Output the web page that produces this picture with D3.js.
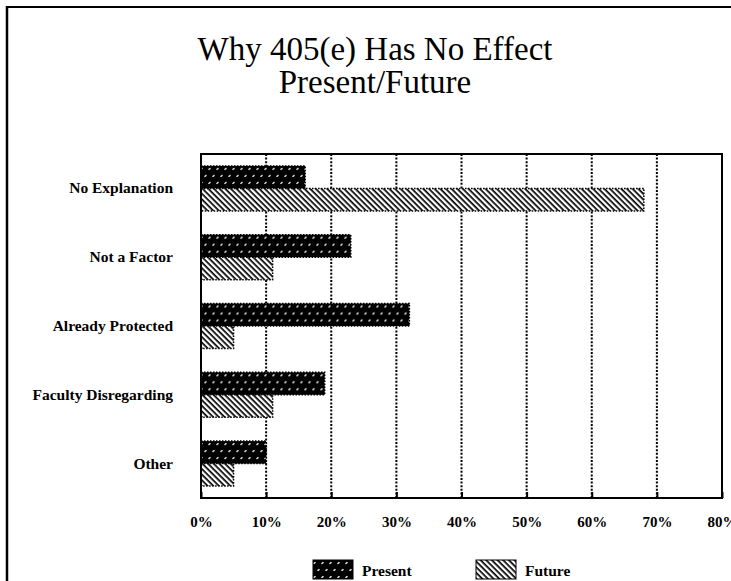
<!DOCTYPE html>
<html>
<head>
<meta charset="utf-8">
<script src="https://cdn.jsdelivr.net/npm/d3@7"></script>
<style>
  html, body { margin: 0; padding: 0; background: #fff; }
  svg { display: block; }
  text { font-family: "Liberation Serif", "Times New Roman", serif; fill: #000; }
</style>
</head>
<body>
<svg id="chart" width="731" height="581"></svg>
<script>
// Reasons why 405(e) has no effect, share of responses (%)
const categories = ["No Explanation", "Not a Factor", "Already Protected", "Faculty Disregarding", "Other"];
const seriesNames = ["Present", "Future"];
const presentValues = [16, 23, 32, 19, 10];
const futureValues = [68, 11, 5, 11, 5];
const tickValues = [0, 10, 20, 30, 40, 50, 60, 70, 80];
const titleLines = ["Why 405(e) Has No Effect", "Present/Future"];

const svg = d3.select("#chart");
const W = 731, H = 581;
const plot = { left: 201, right: 722, top: 154, bottom: 498 };

// Fill patterns: dotted black for Present, diagonal hatch for Future
const defs = svg.append("defs");
const pDots = defs.append("pattern")
  .attr("id", "pat-present").attr("patternUnits", "userSpaceOnUse")
  .attr("width", 8).attr("height", 14);
pDots.append("rect").attr("width", 8).attr("height", 14).attr("fill", "#000");
[[1.5, 3], [5.5, 10]].forEach(([cx, cy]) => {
  pDots.append("line")
    .attr("x1", cx - 1).attr("y1", cy + 0.8).attr("x2", cx + 1).attr("y2", cy - 0.8)
    .attr("stroke", "#fff").attr("stroke-width", 1.4);
});
const pHatch = defs.append("pattern")
  .attr("id", "pat-future").attr("patternUnits", "userSpaceOnUse")
  .attr("width", 4).attr("height", 4)
  .attr("patternTransform", "rotate(45)");
pHatch.append("rect").attr("width", 4).attr("height", 4).attr("fill", "#fff");
pHatch.append("rect").attr("x", 0).attr("y", 0).attr("width", 4).attr("height", 1.7).attr("fill", "#000");

const fills = { Present: "url(#pat-present)", Future: "url(#pat-future)" };

// Outer page border (left and top)
svg.append("line").attr("x1", 7).attr("y1", 6).attr("x2", 7).attr("y2", H)
  .attr("stroke", "#000").attr("stroke-width", 2.5);
svg.append("line").attr("x1", 6).attr("y1", 7).attr("x2", W).attr("y2", 7)
  .attr("stroke", "#000").attr("stroke-width", 2);

// Title
svg.append("g").selectAll("text").data(titleLines).join("text")
  .attr("x", 375).attr("y", (d, i) => 60 + i * 33)
  .attr("text-anchor", "middle")
  .attr("font-size", 33)
  .text(d => d);

// Scales
const x = d3.scaleLinear().domain([0, 80]).range([plot.left, plot.right]);
const y = d3.scaleBand().domain(categories).range([plot.top, plot.bottom])
  .paddingInner(0.346).paddingOuter(0.173);
const ySub = d3.scaleBand().domain(seriesNames).range([0, y.bandwidth()]);

const rows = categories.map((c, i) => ({
  category: c,
  values: [
    { series: "Present", value: presentValues[i] },
    { series: "Future", value: futureValues[i] }
  ]
}));

// Dotted vertical gridlines
svg.append("g").selectAll("line").data(tickValues.filter(t => t > 0 && t < 80)).join("line")
  .attr("x1", d => x(d)).attr("x2", d => x(d))
  .attr("y1", plot.top).attr("y2", plot.bottom)
  .attr("stroke", "#000").attr("stroke-width", 2)
  .attr("stroke-dasharray", "2,1.6");

// Bars
const groups = svg.append("g").selectAll("g").data(rows).join("g")
  .attr("transform", d => `translate(0,${y(d.category)})`);
groups.selectAll("rect").data(d => d.values).join("rect")
  .attr("x", x(0))
  .attr("y", d => ySub(d.series))
  .attr("width", d => x(d.value) - x(0))
  .attr("height", ySub.bandwidth())
  .attr("fill", d => fills[d.series])
  .attr("stroke", "#000").attr("stroke-width", 1.5)
  .attr("stroke-dasharray", "1.5,1.5");

// Plot frame
svg.append("rect")
  .attr("x", plot.left).attr("y", plot.top)
  .attr("width", plot.right - plot.left).attr("height", plot.bottom - plot.top)
  .attr("fill", "none").attr("stroke", "#000").attr("stroke-width", 2);

// Bottom axis ticks and labels
const xAxis = d3.axisBottom(x).tickValues(tickValues)
  .tickFormat(d => d + "%").tickSizeInner(-6).tickSizeOuter(0).tickPadding(18);
const gx = svg.append("g").attr("transform", `translate(0,${plot.bottom})`).call(xAxis);
gx.select(".domain").remove();
gx.selectAll(".tick line").attr("stroke", "#000").attr("stroke-width", 2);
gx.selectAll(".tick text")
  .attr("font-family", "'Liberation Serif', serif")
  .attr("font-size", 15).attr("font-weight", "bold").attr("fill", "#000");

// Category labels
const yAxis = d3.axisLeft(y).tickSize(0).tickPadding(28);
const gy = svg.append("g").attr("transform", `translate(${plot.left},0)`).call(yAxis);
gy.select(".domain").remove();
gy.selectAll(".tick text")
  .attr("font-family", "'Liberation Serif', serif")
  .attr("font-size", 15.5).attr("font-weight", "bold").attr("fill", "#000");

// Legend
const legend = svg.append("g").selectAll("g").data(seriesNames).join("g")
  .attr("transform", (d, i) => `translate(${313 + i * 163},560)`);
legend.append("rect")
  .attr("width", 40).attr("height", 19)
  .attr("fill", d => fills[d])
  .attr("stroke", "#000").attr("stroke-width", 1);
legend.append("text")
  .attr("x", 49).attr("y", 16)
  .attr("font-size", 15.5).attr("font-weight", "bold")
  .text(d => d);
</script>
</body>
</html>
